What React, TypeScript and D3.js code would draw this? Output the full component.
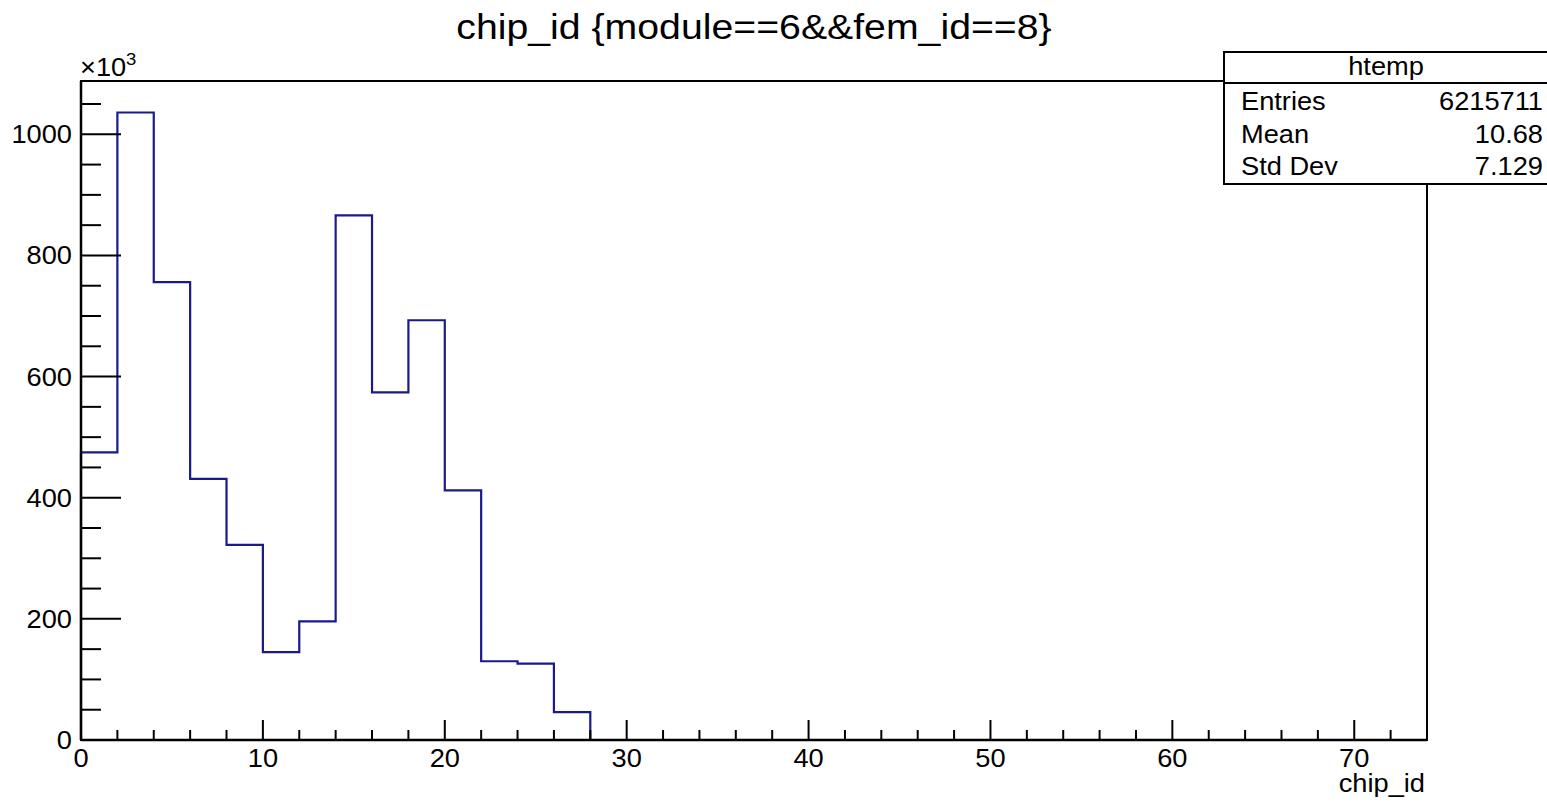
import React from "react";
import * as d3 from "d3";

// ---- data ----
const binEdges = [0, 2, 4, 6, 8, 10, 12, 14, 16, 18, 20, 22, 24, 26, 28];
const binCounts = [475, 1036, 756, 431, 322, 145, 196, 866, 574, 693, 412, 130, 126, 46]; // x10^3
const xMajorTicks = [0, 10, 20, 30, 40, 50, 60, 70];
const yMajorTicks = [0, 200, 400, 600, 800, 1000];
const statsLabels = ["Entries", "Mean", "Std Dev"];
const statsValues = ["6215711", "10.68", "7.129"];
const titleText = "chip_id {module==6&&fem_id==8}";
const xTitle = "chip_id";
const histName = "htemp";

const W = 1547;
const H = 803;
const SX = 1.09;
const FONT = "'Liberation Sans', Arial, Helvetica, sans-serif";
const LINE = "#1a1a8c";
const FS = 25;

function T({ x, y, size, anchor = "start", children }: any) {
  return (
    <text
      transform={`translate(${x},${y}) scale(${SX},1)`}
      fontSize={size}
      textAnchor={anchor}
      fontFamily={FONT}
      fill="#000"
    >
      {children}
    </text>
  );
}

export default function App() {
  const x = d3.scaleLinear().domain([0, 74]).range([81, 1427]);
  const y = d3.scaleLinear().domain([0, 1088]).range([740, 81]);

  const xMinor = d3.range(0, 74.001, 2).filter((v) => v % 10 !== 0);
  const yMinor = d3.range(0, 1088, 50).filter((v) => v % 200 !== 0);

  // step outline
  const pts: [number, number][] = [[binEdges[0], 0]];
  binCounts.forEach((c, i) => {
    pts.push([binEdges[i], c]);
    pts.push([binEdges[i + 1], c]);
  });
  pts.push([binEdges[binEdges.length - 1], 0]);
  const line = d3
    .line<[number, number]>()
    .x((d) => x(d[0]))
    .y((d) => y(d[1]));

  const [x0, x1] = x.range();
  const [yb, yt] = y.range();

  // stats box
  const bx = 1224, by = 52, bw = 340, bh = 132, hdr = 31;

  return (
    <svg
      width={W}
      height={H}
      style={{ position: "absolute", left: 0, top: 0, background: "#fff" }}
    >
      <rect x={0} y={0} width={W} height={H} fill="#fff" />
      {/* title */}
      <T x={754} y={39} size={36} anchor="middle">{titleText}</T>

      {/* histogram */}
      <path d={line(pts) || ""} fill="none" stroke={LINE} strokeWidth={2.2} />

      {/* frame */}
      <rect x={x0} y={yt} width={x1 - x0} height={yb - yt} fill="none" stroke="#000" strokeWidth={2} />
      <line x1={x0} x2={x1} y1={yb} y2={yb} stroke="#000" strokeWidth={2.5} />
      <line x1={x0} x2={x0} y1={yb} y2={yt} stroke="#000" strokeWidth={2.5} />

      {/* x ticks */}
      {xMajorTicks.map((v) => (
        <g key={"xm" + v}>
          <line x1={x(v)} x2={x(v)} y1={yb} y2={yb - 20} stroke="#000" strokeWidth={2} />
          <T x={x(v)} y={767} size={FS} anchor="middle">{v}</T>
        </g>
      ))}
      {xMinor.map((v) => (
        <line key={"xn" + v} x1={x(v)} x2={x(v)} y1={yb} y2={yb - 10} stroke="#000" strokeWidth={2} />
      ))}

      {/* y ticks */}
      {yMajorTicks.map((v) => (
        <g key={"ym" + v}>
          <line x1={x0} x2={x0 + 40} y1={y(v)} y2={y(v)} stroke="#000" strokeWidth={2} />
          <T x={72} y={y(v) + 9} size={FS} anchor="end">{v}</T>
        </g>
      ))}
      {yMinor.map((v) => (
        <line key={"yn" + v} x1={x0} x2={x0 + 20} y1={y(v)} y2={y(v)} stroke="#000" strokeWidth={2} />
      ))}

      {/* exponent */}
      <T x={80} y={76} size={FS}>×10</T>
      <T x={126} y={65} size={17}>3</T>

      {/* x title */}
      <T x={1425} y={792} size={FS} anchor="end">{xTitle}</T>

      {/* stats box */}
      <rect x={bx} y={by} width={bw} height={bh} fill="#fff" stroke="#000" strokeWidth={2} />
      <line x1={bx} x2={bx + bw} y1={by + hdr} y2={by + hdr} stroke="#000" strokeWidth={2} />
      <T x={1386} y={75} size={FS} anchor="middle">{histName}</T>
      {statsLabels.map((l, i) => (
        <g key={l}>
          <T x={1241} y={110 + i * 32.5} size={FS}>{l}</T>
          <T x={1543} y={110 + i * 32.5} size={FS} anchor="end">{statsValues[i]}</T>
        </g>
      ))}
    </svg>
  );
}
